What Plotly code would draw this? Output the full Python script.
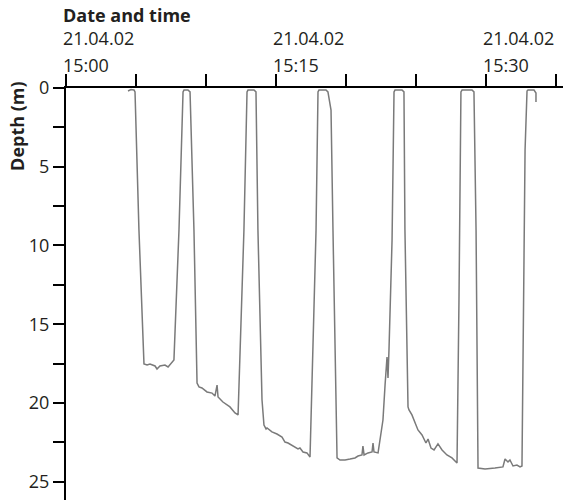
import plotly.graph_objects as go
import pandas as pd

# Minutes after 21.04.02 15:00 and depth (m)
minutes = [4.43, 4.64, 4.86, 4.93, 5.21, 5.57,
           5.79, 6.0, 6.36, 6.5, 6.71, 7.07, 7.29, 7.57, 7.71,
           8.07, 8.36, 8.43, 8.71, 8.86,
           9.14, 9.36, 9.5, 9.71, 10.07, 10.43, 10.64, 10.79, 10.86, 11.21, 11.71, 12.07, 12.29,
           12.71, 12.93, 13.0, 13.43, 13.57,
           13.71, 14.0, 14.14, 14.29, 14.36, 14.71, 15.07, 15.43, 15.64, 15.86, 16.21, 16.57, 16.71,
           16.93, 17.21, 17.43,
           17.86, 18.0, 18.07, 18.57, 18.71,
           18.93, 19.07, 19.29, 19.36, 19.57, 19.93, 20.29, 20.64, 20.86, 21.14, 21.21, 21.29, 21.57,
           21.86, 21.93, 22.0, 22.29,
           22.64, 22.79, 22.93, 23.0, 23.07, 23.29, 23.43, 23.5, 24.0, 24.14,
           24.21, 24.43, 24.5, 24.71, 24.93, 25.14, 25.43, 25.71, 25.86, 26.07, 26.29, 26.57, 26.86,
           27.21, 27.57, 27.93,
           28.07, 28.21, 28.29, 29.0, 29.14,
           29.29, 29.43, 29.93, 30.64, 31.21, 31.36, 31.57, 31.71, 31.93, 32.21, 32.43, 32.57,
           32.64, 32.79, 32.93, 33.0, 33.43, 33.57, 33.57]
depth = [0.19, 0.10, 0.13, 0.25, 9.0, 17.52,
         17.59, 17.52, 17.65, 17.84, 17.65, 17.59, 17.71, 17.4, 17.27,
         9.02, 0.25, 0.13, 0.13, 0.25,
         9.02, 18.73, 18.98, 19.05, 19.3, 19.37, 19.56, 18.86, 19.62, 19.94, 20.25, 20.63, 20.76,
         9.02, 0.25, 0.13, 0.13, 0.25,
         9.02, 19.8, 21.4, 21.65, 21.59, 21.84, 21.97, 22.16, 22.48, 22.54, 22.73, 22.92, 22.86,
         23.11, 23.17, 23.43,
         9.02, 0.25, 0.13, 0.13, 0.25,
         1.4, 9.02, 22.35, 23.49, 23.62, 23.62, 23.56, 23.49, 23.37, 23.3, 22.73, 23.3, 23.17,
         23.11, 22.54, 23.11, 23.17,
         21.08, 18.86, 17.08, 18.41, 16.63, 9.65, 0.25, 0.13, 0.13, 0.25,
         9.02, 20.25, 20.44, 20.76, 21.21, 21.71, 22.03, 22.54, 22.29, 22.86, 22.98, 22.6, 22.98,
         23.3, 23.49, 23.81,
         13.46, 0.25, 0.13, 0.13, 0.25,
         9.02, 24.13, 24.19, 24.13, 24.06, 23.56, 23.75, 23.62, 24.0, 23.94, 24.06, 24.0,
         17.27, 3.94, 0.19, 0.13, 0.13, 0.32, 0.89]

x_tick_minutes = [0, 5, 10, 15, 20, 25, 30, 35]
x_label_minutes = [0, 15, 30]
x_label_dates = ["21.04.02", "21.04.02", "21.04.02"]
x_label_times = ["15:00", "15:15", "15:30"]
y_tick_vals = [0, 2.5, 5, 7.5, 10, 12.5, 15, 17.5, 20, 22.5, 25]
y_tick_text = ["0", "", "5", "", "10", "", "15", "", "20", "", "25"]

start = pd.Timestamp("2002-04-21 15:00:00")
times = start + pd.to_timedelta(minutes, unit="min")
tick_times = start + pd.to_timedelta(x_tick_minutes, unit="min")
label_times = start + pd.to_timedelta(x_label_minutes, unit="min")

FONT = "Open Sans"
TXT = "#231f20"

fig = go.Figure()
fig.add_trace(go.Scatter(x=times, y=depth, mode="lines",
                         line=dict(color="#7a7a7a", width=1.5),
                         hoverinfo="skip"))

fig.update_layout(
    width=587, height=500,
    margin=dict(l=66, r=24, t=88, b=0, pad=0),
    paper_bgcolor="white", plot_bgcolor="white",
    showlegend=False,
    font=dict(family=FONT, size=18, color=TXT),
    xaxis=dict(type="date", side="top",
               range=[start, start + pd.Timedelta(minutes=35.5)],
               showgrid=False, zeroline=False,
               showline=True, linecolor="black", linewidth=2,
               ticks="outside", ticklen=12, tickwidth=2, tickcolor="black",
               tickvals=list(tick_times), showticklabels=False),
    yaxis=dict(range=[26.16, 0], showgrid=False, zeroline=False,
               showline=True, linecolor="black", linewidth=2,
               ticks="outside", ticklen=11, tickwidth=2, tickcolor="black",
               tickvals=y_tick_vals, ticktext=y_tick_text,
               tickfont=dict(family=FONT, size=18, color=TXT)),
)

ann = []
for t, d, hm in zip(label_times, x_label_dates, x_label_times):
    ann.append(dict(x=t, y=1.121, xref="x", yref="paper", text=d, showarrow=False,
                    xanchor="left", yanchor="middle", xshift=-5,
                    font=dict(family=FONT, size=18, color=TXT)))
    ann.append(dict(x=t, y=1.056, xref="x", yref="paper", text=hm, showarrow=False,
                    xanchor="left", yanchor="middle", xshift=-5,
                    font=dict(family=FONT, size=18, color=TXT)))
ann.append(dict(x=start, y=1.177, xref="x", yref="paper", text="<b>Date and time</b>",
                showarrow=False, xanchor="left", yanchor="middle", xshift=-5,
                font=dict(family=FONT, size=18, color=TXT)))
ann.append(dict(x=-0.0986, y=0.908, xref="paper", yref="paper", text="<b>Depth (m)</b>",
                showarrow=False, xanchor="center", yanchor="middle", textangle=-90,
                font=dict(family=FONT, size=18, color=TXT)))
fig.update_layout(annotations=ann)

fig.write_html("out.html")
